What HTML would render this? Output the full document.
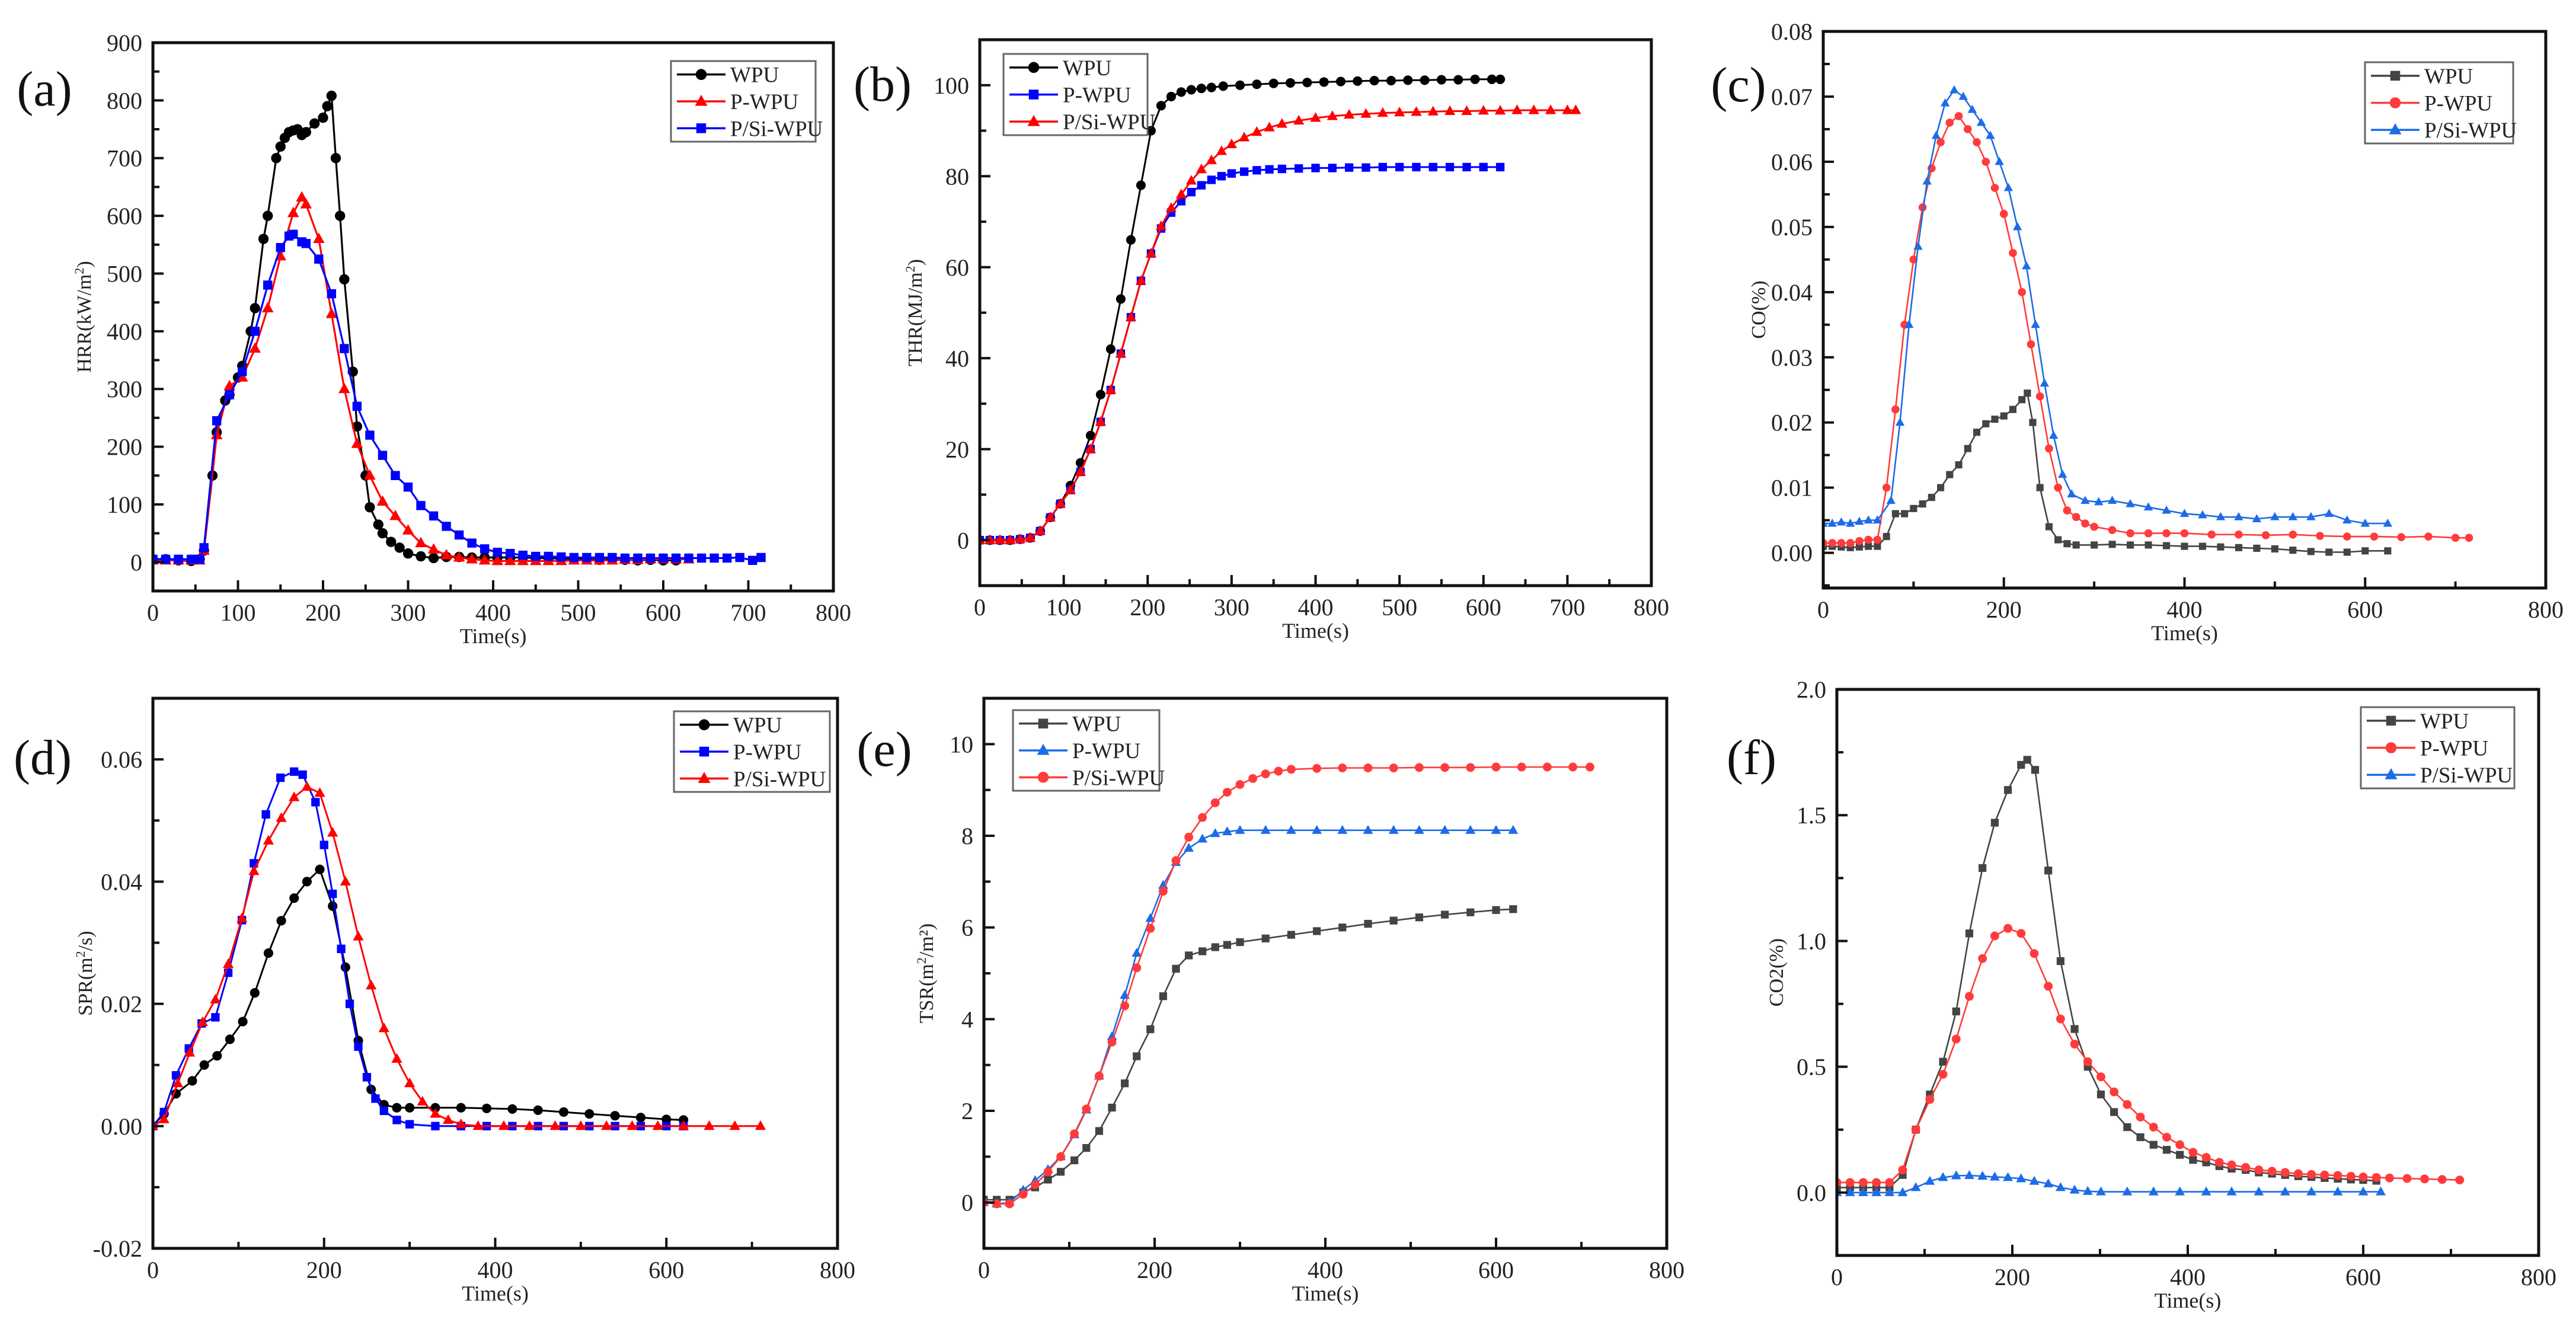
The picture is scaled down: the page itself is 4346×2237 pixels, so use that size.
<!DOCTYPE html>
<html><head><meta charset="utf-8">
<style>
html,body{margin:0;padding:0;background:#fff;}
svg{display:block;font-family:"Liberation Serif","DejaVu Serif",serif;}
</style></head>
<body>
<svg id="fig" width="4346" height="2237" viewBox="0 0 4346 2237" xmlns="http://www.w3.org/2000/svg">
<rect width="4346" height="2237" fill="#fff"/>
</svg>
<script>
// ---- Panel (a) HRR ----
const aWpuT=[0,15,30,45,55,60,70,75,85,90,100,105,115,120,130,135,145,150,155,160,165,170,175,180,190,200,205,210,215,220,225,235,240,250,255,265,270,280,290,300,315,330,345,360,375,390,405,420,435,450,465,480,495,510,525,540,555,570,585,600,615];
const aWpuV=[5,5,3,2,5,20,150,225,280,290,320,340,400,440,560,600,700,720,735,745,748,750,740,745,760,770,790,808,700,600,490,330,235,150,95,65,50,35,25,15,10,7,9,9,8,8,8,8,8,7,7,6,6,5,4,5,4,3,4,3,3];
const aPT=[0,15,30,45,55,60,75,90,105,120,135,150,165,175,180,195,210,225,240,255,270,285,300,315,330,345,360,375,390,405,420,435,450,465,480,495,510,525,540,555,570,585,600,615,630];
const aPV=[3,3,3,3,3,20,220,305,320,370,440,530,605,632,620,560,430,300,205,150,105,80,55,33,22,12,8,5,3,2,2,2,2,2,2,3,3,3,3,4,4,5,5,5,5];
const aST=[0,15,30,45,55,60,75,90,105,120,135,150,160,165,175,180,195,210,225,240,255,270,285,300,315,330,345,360,375,390,405,420,435,450,465,480,495,510,525,540,555,570,585,600,615,630,645,660,675,690,705,715];
const aSV=[5,5,5,5,5,25,245,290,330,400,480,545,565,568,555,552,525,465,370,270,220,185,150,130,98,80,62,47,33,23,17,15,12,10,10,9,8,8,8,8,7,7,7,7,7,7,7,7,7,8,3,8];
// ---- Panel (b) THR ----
const bWT=[0,12,24,36,48,60,72,84,96,108,120,132,144,156,168,180,192,204,216,228,240,252,264,276,290,310,330,350,370,390,410,430,450,470,490,510,530,550,570,590,610,620];
const bWV=[0,0,0,0,0.2,0.5,2,5,8,12,17,23,32,42,53,66,78,90,95.5,97.5,98.5,99,99.3,99.5,99.8,100,100.2,100.4,100.5,100.6,100.7,100.8,100.9,101,101,101.1,101.1,101.2,101.2,101.3,101.3,101.3];
const bPT=[0,12,24,36,48,60,72,84,96,108,120,132,144,156,168,180,192,204,216,228,240,252,264,276,288,300,315,330,345,360,380,400,420,440,460,480,500,520,540,560,580,600,620];
const bPV=[0,0,0,0,0.2,0.5,2,5,8,11,15,20,26,33,41,49,57,63,68.5,72,74.5,76.5,78,79.2,80,80.6,81,81.3,81.5,81.6,81.7,81.8,81.8,81.9,81.9,82,82,82,82,82,82,82,82];
const bST=[0,12,24,36,48,60,72,84,96,108,120,132,144,156,168,180,192,204,216,228,240,252,264,276,288,300,315,330,345,360,380,400,420,440,460,480,500,520,540,560,580,600,620,640,660,680,700,710];
const bSV=[0,0,0,0,0.2,0.5,2,5,8,11,15,20,26,33,41,49,57,63,69,73,76,79,81.5,83.5,85.5,87,88.5,89.7,90.7,91.5,92.2,92.8,93.2,93.5,93.7,93.9,94,94.1,94.2,94.3,94.3,94.4,94.4,94.5,94.5,94.5,94.5,94.5];
// ---- Panel (c) CO ----
const cWT=[0,10,20,30,40,50,60,70,80,90,100,110,120,130,140,150,160,170,180,190,200,210,220,226,232,240,250,260,270,280,300,320,340,360,380,400,420,440,460,480,500,520,540,560,580,600,625];
const cWV=[0.001,0.001,0.0009,0.0008,0.0009,0.001,0.001,0.0025,0.006,0.006,0.0068,0.0075,0.0085,0.01,0.012,0.0135,0.016,0.0185,0.0198,0.0205,0.021,0.022,0.0235,0.0245,0.02,0.01,0.004,0.002,0.0014,0.0012,0.0012,0.0013,0.0012,0.0012,0.0011,0.001,0.001,0.0009,0.0008,0.0007,0.0006,0.0004,0.0002,0.0001,0.0001,0.0003,0.0003];
const cPT=[0,10,20,30,40,50,60,70,80,90,100,110,120,130,140,150,160,170,180,190,200,210,220,230,240,250,260,270,280,290,300,320,340,360,380,400,430,460,490,520,550,580,610,640,670,700,715];
const cPV=[0.0015,0.0015,0.0015,0.0015,0.0018,0.002,0.002,0.01,0.022,0.035,0.045,0.053,0.059,0.063,0.066,0.067,0.065,0.063,0.06,0.056,0.052,0.046,0.04,0.032,0.024,0.016,0.01,0.0065,0.0055,0.0045,0.004,0.0035,0.003,0.003,0.003,0.003,0.0028,0.0028,0.0027,0.0028,0.0026,0.0025,0.0025,0.0024,0.0025,0.0023,0.0023];
const cST=[0,10,20,30,40,50,60,75,85,95,105,115,125,135,145,155,165,175,185,195,205,215,225,235,245,255,265,275,290,305,320,340,360,380,400,420,440,460,480,500,520,540,560,580,600,625];
const cSV=[0.0045,0.0045,0.0047,0.0045,0.0048,0.005,0.005,0.008,0.02,0.035,0.047,0.057,0.064,0.069,0.071,0.07,0.068,0.066,0.064,0.06,0.056,0.05,0.044,0.035,0.026,0.018,0.012,0.009,0.008,0.0078,0.008,0.0075,0.007,0.0065,0.006,0.0058,0.0055,0.0055,0.0052,0.0055,0.0055,0.0055,0.006,0.005,0.0045,0.0045];
// ---- Panel (d) SPR ----
const dWT=[0,13,27,46,60,75,90,105,119,135,150,165,180,195,210,225,240,255,270,285,300,330,360,390,420,450,480,510,540,570,600,620];
const dWV=[0,0.002,0.0053,0.0074,0.01,0.0115,0.0142,0.0171,0.0218,0.0283,0.0336,0.0373,0.04,0.042,0.036,0.026,0.014,0.006,0.0035,0.003,0.003,0.003,0.003,0.0029,0.0028,0.0026,0.0023,0.002,0.0017,0.0014,0.0011,0.001];
const dPT=[0,13,27,42,57,73,88,104,118,132,149,165,175,190,200,210,220,230,240,250,260,270,285,300,330,360,390,420,450,480,510,540,570,600,620];
const dPV=[0,0.0023,0.0083,0.0127,0.0168,0.0178,0.0251,0.0337,0.043,0.051,0.057,0.058,0.0575,0.053,0.046,0.038,0.029,0.02,0.013,0.008,0.0045,0.0025,0.001,0.0003,0,0,0,0,0,0,0,0,0,0,0];
const dST=[0,13,29,43,58,73,88,104,118,135,150,165,180,195,210,225,240,255,270,285,300,315,330,345,360,380,410,440,470,500,530,560,590,620,650,680,710];
const dSV=[0,0.0011,0.007,0.012,0.017,0.0207,0.0265,0.034,0.0417,0.0467,0.0504,0.0538,0.0555,0.0545,0.048,0.04,0.031,0.023,0.016,0.011,0.007,0.004,0.002,0.001,0.0003,0,0,0,0,0,0,0,0,0,0,0,0];
// ---- Panel (e) TSR ----
const eWT=[0,15,30,46,60,75,90,106,120,135,150,165,179,195,210,225,240,256,271,285,300,330,360,390,420,450,480,510,540,570,600,620];
const eWV=[0.06,0.06,0.06,0.22,0.33,0.5,0.67,0.92,1.19,1.56,2.07,2.6,3.19,3.78,4.5,5.1,5.39,5.48,5.57,5.62,5.68,5.76,5.84,5.92,6.0,6.08,6.15,6.22,6.28,6.33,6.38,6.4];
const ePT=[0,15,30,46,60,75,90,106,120,135,150,165,179,195,210,225,240,256,271,285,300,330,360,390,420,450,480,510,540,570,600,620];
const ePV=[0,-0.03,0,0.27,0.48,0.72,1.0,1.48,2.02,2.76,3.62,4.52,5.44,6.2,6.92,7.42,7.73,7.93,8.05,8.09,8.12,8.12,8.12,8.12,8.12,8.12,8.12,8.12,8.12,8.12,8.12,8.12];
const eST=[0,15,30,46,60,75,90,106,120,135,150,165,179,195,210,225,240,256,271,285,300,315,330,345,360,390,420,450,480,510,540,570,600,630,660,690,710];
const eSV=[0,-0.03,-0.03,0.18,0.39,0.67,1.0,1.5,2.04,2.76,3.5,4.29,5.12,5.98,6.79,7.46,7.97,8.4,8.72,8.95,9.12,9.25,9.35,9.41,9.45,9.47,9.48,9.48,9.48,9.49,9.49,9.49,9.5,9.5,9.5,9.5,9.5];
// ---- Panel (f) CO2 ----
const fWT=[0,15,30,45,60,75,90,106,121,136,151,166,180,195,210,217,226,241,255,271,286,301,316,331,346,361,376,391,406,421,436,450,466,481,496,511,526,541,556,571,586,600,615];
const fWV=[0.02,0.02,0.02,0.02,0.02,0.07,0.25,0.39,0.52,0.72,1.03,1.29,1.47,1.6,1.70,1.72,1.68,1.28,0.92,0.65,0.5,0.39,0.32,0.26,0.22,0.19,0.17,0.15,0.13,0.12,0.105,0.095,0.09,0.08,0.075,0.07,0.065,0.062,0.058,0.055,0.052,0.05,0.047];
const fPT=[0,15,30,45,60,75,90,106,121,136,151,166,180,195,210,225,241,255,271,286,301,316,331,346,361,376,391,406,421,436,450,466,481,496,511,526,541,556,571,586,600,615,630,650,670,690,710];
const fPV=[0.04,0.04,0.04,0.04,0.04,0.09,0.25,0.37,0.47,0.61,0.78,0.93,1.02,1.05,1.03,0.95,0.82,0.69,0.59,0.52,0.46,0.4,0.35,0.3,0.26,0.22,0.19,0.16,0.14,0.12,0.11,0.1,0.09,0.085,0.08,0.075,0.072,0.07,0.068,0.065,0.062,0.06,0.058,0.056,0.054,0.052,0.05];
const fST=[0,15,30,45,60,75,90,106,121,136,151,166,180,195,210,225,241,255,271,286,301,331,361,391,421,450,481,511,541,571,600,620];
const fSV=[0,0,0,0,0,0,0.02,0.045,0.06,0.067,0.068,0.065,0.062,0.06,0.055,0.045,0.035,0.02,0.01,0.005,0.003,0.003,0.003,0.003,0.003,0.003,0.003,0.003,0.003,0.003,0.003,0.003];

const NS="http://www.w3.org/2000/svg";
const svg=document.getElementById('fig');
function mk(tag,attrs,parent){const e=document.createElementNS(NS,tag);for(const k in attrs)e.setAttribute(k,attrs[k]);(parent||svg).appendChild(e);return e;}

const BK='#000',RD='#ff0000',BL='#0000ff',GY='#444444',RD2='#ff3b3b',BL2='#1c6ce8';
const panels=[
 {id:'a',x0:258,x1:1406,y0:72,y1:997,ymin:-50,ymax:900,ymaj:100,ymin2:50,ydec:0,yFrom:0,yTo:900,xmaj:100,xmin2:50,ytitle:'HRR(kW/m',ysup:'2',yclose:')',ytx:153,lab:[75,150],ms:14,lw:3.2,
  leg:[1132,103,1376,239],
  series:[{n:'WPU',t:aWpuT,v:aWpuV,c:BK,m:'circle'},{n:'P-WPU',t:aPT,v:aPV,c:RD,m:'tri'},{n:'P/Si-WPU',t:aST,v:aSV,c:BL,m:'square'}]},
 {id:'b',x0:1653,x1:2786,y0:67,y1:988,ymin:-10,ymax:110,ymaj:20,ymin2:10,ydec:0,yFrom:0,yTo:100,xmaj:100,xmin2:50,ytitle:'THR(MJ/m',ysup:'2',yclose:')',ytx:1555,lab:[1489,142],ms:13,lw:3,
  leg:[1693,91,1936,228],
  series:[{n:'WPU',t:bWT,v:bWV,c:BK,m:'circle'},{n:'P-WPU',t:bPT,v:bPV,c:BL,m:'square'},{n:'P/Si-WPU',t:bST,v:bSV,c:RD,m:'tri'}]},
 {id:'c',x0:3076,x1:4295,y0:53,y1:992,ymin:-0.0054,ymax:0.08,ymaj:0.01,ymin2:0.005,ydec:2,yFrom:0,yTo:0.08,xmaj:200,xmin2:100,ytitle:'CO(%)',ysup:'',yclose:'',ytx:2978,lab:[2933,143],ms:11,lw:2.6,
  leg:[3990,105,4240,242],
  series:[{n:'WPU',t:cWT,v:cWV,c:GY,m:'square'},{n:'P-WPU',t:cPT,v:cPV,c:RD2,m:'circle'},{n:'P/Si-WPU',t:cST,v:cSV,c:BL2,m:'tri'}]},
 {id:'d',x0:258,x1:1413,y0:1178,y1:2106,ymin:-0.02,ymax:0.07,ymaj:0.02,ymin2:0.01,ydec:2,yFrom:-0.02,yTo:0.06,xmaj:200,xmin2:100,ytitle:'SPR(m',ysup:'2',yclose:'/s)',ytx:155,lab:[72,1278],ms:13,lw:3,
  leg:[1137,1200,1400,1336],
  series:[{n:'WPU',t:dWT,v:dWV,c:BK,m:'circle'},{n:'P-WPU',t:dPT,v:dPV,c:BL,m:'square'},{n:'P/Si-WPU',t:dST,v:dSV,c:RD,m:'tri'}]},
 {id:'e',x0:1660,x1:2812,y0:1178,y1:2106,ymin:-1,ymax:11,ymaj:2,ymin2:1,ydec:0,yFrom:0,yTo:10,xmaj:200,xmin2:100,ytitle:'TSR(m',ysup:'2',yclose:'/m²)',ytx:1574,lab:[1492,1264],ms:12,lw:2.6,
  leg:[1709,1198,1956,1334],
  series:[{n:'WPU',t:eWT,v:eWV,c:GY,m:'square'},{n:'P-WPU',t:ePT,v:ePV,c:BL2,m:'tri'},{n:'P/Si-WPU',t:eST,v:eSV,c:RD2,m:'circle'}]},
 {id:'f',x0:3099,x1:4283,y0:1163,y1:2118,ymin:-0.25,ymax:2.0,ymaj:0.5,ymin2:0.25,ydec:1,yFrom:0,yTo:2.0,xmaj:200,xmin2:100,ytitle:'CO2(%)',ysup:'',yclose:'',ytx:3008,lab:[2955,1278],ms:12,lw:2.6,
  leg:[3983,1193,4242,1330],
  series:[{n:'WPU',t:fWT,v:fWV,c:GY,m:'square'},{n:'P-WPU',t:fPT,v:fPV,c:RD2,m:'circle'},{n:'P/Si-WPU',t:fST,v:fSV,c:BL2,m:'tri'}]}
];

function marker(g,shape,x,y,c,s){
  let e;
  if(shape==='circle'){e=mk('circle',{cx:x,cy:y,r:s*0.62,fill:c},g);}
  else if(shape==='square'){e=mk('rect',{x:x-s*0.55,y:y-s*0.55,width:s*1.1,height:s*1.1,fill:c},g);}
  else {e=mk('polygon',{points:`${x},${y-s*0.75} ${x-s*0.7},${y+s*0.5} ${x+s*0.7},${y+s*0.5}`,fill:c},g);}
  return e;
}

panels.forEach(p=>{
  const g=mk('g',{});
  
  
  const sx=t=>p.x0+(t-0)/(800-0)*(p.x1-p.x0);
  const sy=v=>p.y1-(v-p.ymin)/(p.ymax-p.ymin)*(p.y1-p.y0);
  const cp=mk('clipPath',{id:'clip-'+p.id},g);
  mk('rect',{x:p.x0,y:p.y0,width:p.x1-p.x0,height:p.y1-p.y0},cp);
  p.series.forEach((s,si)=>{
    const sg=mk('g',{'clip-path':`url(#clip-${p.id})`},g);
    
    
    const pts=s.t.map((t,i)=>sx(t).toFixed(1)+','+sy(s.v[i]).toFixed(1)).join(' ');
    const pl=mk('polyline',{points:pts,fill:'none',stroke:s.c,'stroke-width':p.lw,'stroke-linejoin':'round'},sg);
    
    
    s.t.forEach((t,i)=>{
      const m=marker(sg,s.m,sx(t),sy(s.v[i]),s.c,p.ms);
      
      
    });
  });
  const fr=mk('rect',{x:p.x0,y:p.y0,width:p.x1-p.x0,height:p.y1-p.y0,fill:'none',stroke:'#111','stroke-width':5},g);
  
  
  for(let t=0;t<=800+1e-9;t+=p.xmin2){
    const major=Math.abs(t/p.xmaj-Math.round(t/p.xmaj))<1e-6;
    const x=sx(t);
    if(t>0&&t<800) mk('line',{x1:x,y1:p.y1,x2:x,y2:p.y1-(major?18:11),stroke:'#111','stroke-width':4},g);
    if(major){
      const tx=mk('text',{x:x,y:p.y1+50,'font-size':40,'text-anchor':'middle',fill:'#222'},g);
      tx.textContent=String(t);
      
      
    }
  }
  const n=Math.round((p.ymax-p.ymin)/p.ymin2);
  const start=Math.ceil(p.ymin/p.ymin2-1e-9)*p.ymin2;
  for(let k=0;k<=n+1;k++){
    const v=start+k*p.ymin2;
    if(v>p.ymax+1e-9) break;
    const y=sy(v);
    const major=Math.abs(v/p.ymaj-Math.round(v/p.ymaj))<1e-6;
    if(v>p.ymin+1e-9&&v<p.ymax-1e-9) mk('line',{x1:p.x0,y1:y,x2:p.x0+(major?18:11),y2:y,stroke:'#111','stroke-width':4},g);
    if(major&&v>=p.yFrom-1e-9&&v<=p.yTo+1e-9){
      const tx=mk('text',{x:p.x0-18,y:y+14,'font-size':40,'text-anchor':'end',fill:'#222'},g);
      let val=Math.abs(v)<1e-9?0:v;
      tx.textContent=val.toFixed(p.ydec);
      
      
    }
  }
  const xt=mk('text',{x:(p.x0+p.x1)/2,y:p.y1+88,'font-size':36,'text-anchor':'middle',fill:'#222'},g);
  xt.textContent='Time(s)';
  
  
  const cy=(p.y0+p.y1)/2;
  const yt=mk('text',{x:0,y:0,'font-size':34,'text-anchor':'middle',fill:'#222',transform:`translate(${p.ytx},${cy}) rotate(-90)`},g);
  
  
  const t1=mk('tspan',{},yt);t1.textContent=p.ytitle;
  if(p.ysup){const t2=mk('tspan',{dy:-12,'font-size':22},yt);t2.textContent=p.ysup;const t3=mk('tspan',{dy:12},yt);t3.textContent=p.yclose;}
  const pl=mk('text',{x:p.lab[0],y:p.lab[1]+28,'font-size':84,'text-anchor':'middle',fill:'#111'},g);
  pl.textContent='('+p.id+')';
  
  
  const L=p.leg;
  const lg=mk('g',{},g);
  
  
  mk('rect',{x:L[0],y:L[1],width:L[2]-L[0],height:L[3]-L[1],fill:'#fff',stroke:'#666','stroke-width':3},lg);
  const step=(L[3]-L[1])/3;
  p.series.forEach((s,i)=>{
    const ey=L[1]+step*(i+0.5);
    const le=mk('g',{},lg);
    
    
    mk('line',{x1:L[0]+10,y1:ey,x2:L[0]+92,y2:ey,stroke:s.c,'stroke-width':3.5},le);
    marker(le,s.m,L[0]+51,ey,s.c,15);
    const tx=mk('text',{x:L[0]+100,y:ey+13,'font-size':37,fill:'#222'},le);
    tx.textContent=s.n;
  });
});
</script>
</body></html>
